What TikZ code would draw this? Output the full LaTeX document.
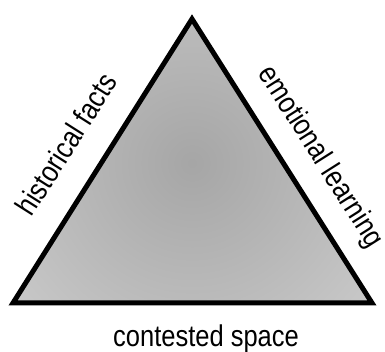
\documentclass[tikz,border=0pt]{standalone}
\usepackage{fontspec}
\setmainfont[FakeStretch=0.85]{Liberation Sans}
\begin{document}
\begin{tikzpicture}[x=1pt,y=1pt,
  lbl/.style={inner sep=0pt, font=\fontsize{30}{34}\selectfont},
  edge/.style={line width=5pt, line join=miter}]
\useasboundingbox (0,0) rectangle (385,352);
\coordinate (A) at (192,333);
\coordinate (B) at (13,49);
\coordinate (C) at (372,49);
\begin{scope}
  \clip (A) -- (B) -- (C) -- cycle;
  \shade[inner color=black!35, outer color=black!10] (192,189) circle (420);
\end{scope}
\draw[edge] (A) -- (B) -- (C) -- cycle;
\node[lbl, rotate=57.6] (hf) at (66,208) {historical facts};
\node[lbl, rotate=-57.6] (el) at (320,195) {emotional learning};
\node[lbl] (cs) at (206,13) {contested space};
\end{tikzpicture}
\end{document}
